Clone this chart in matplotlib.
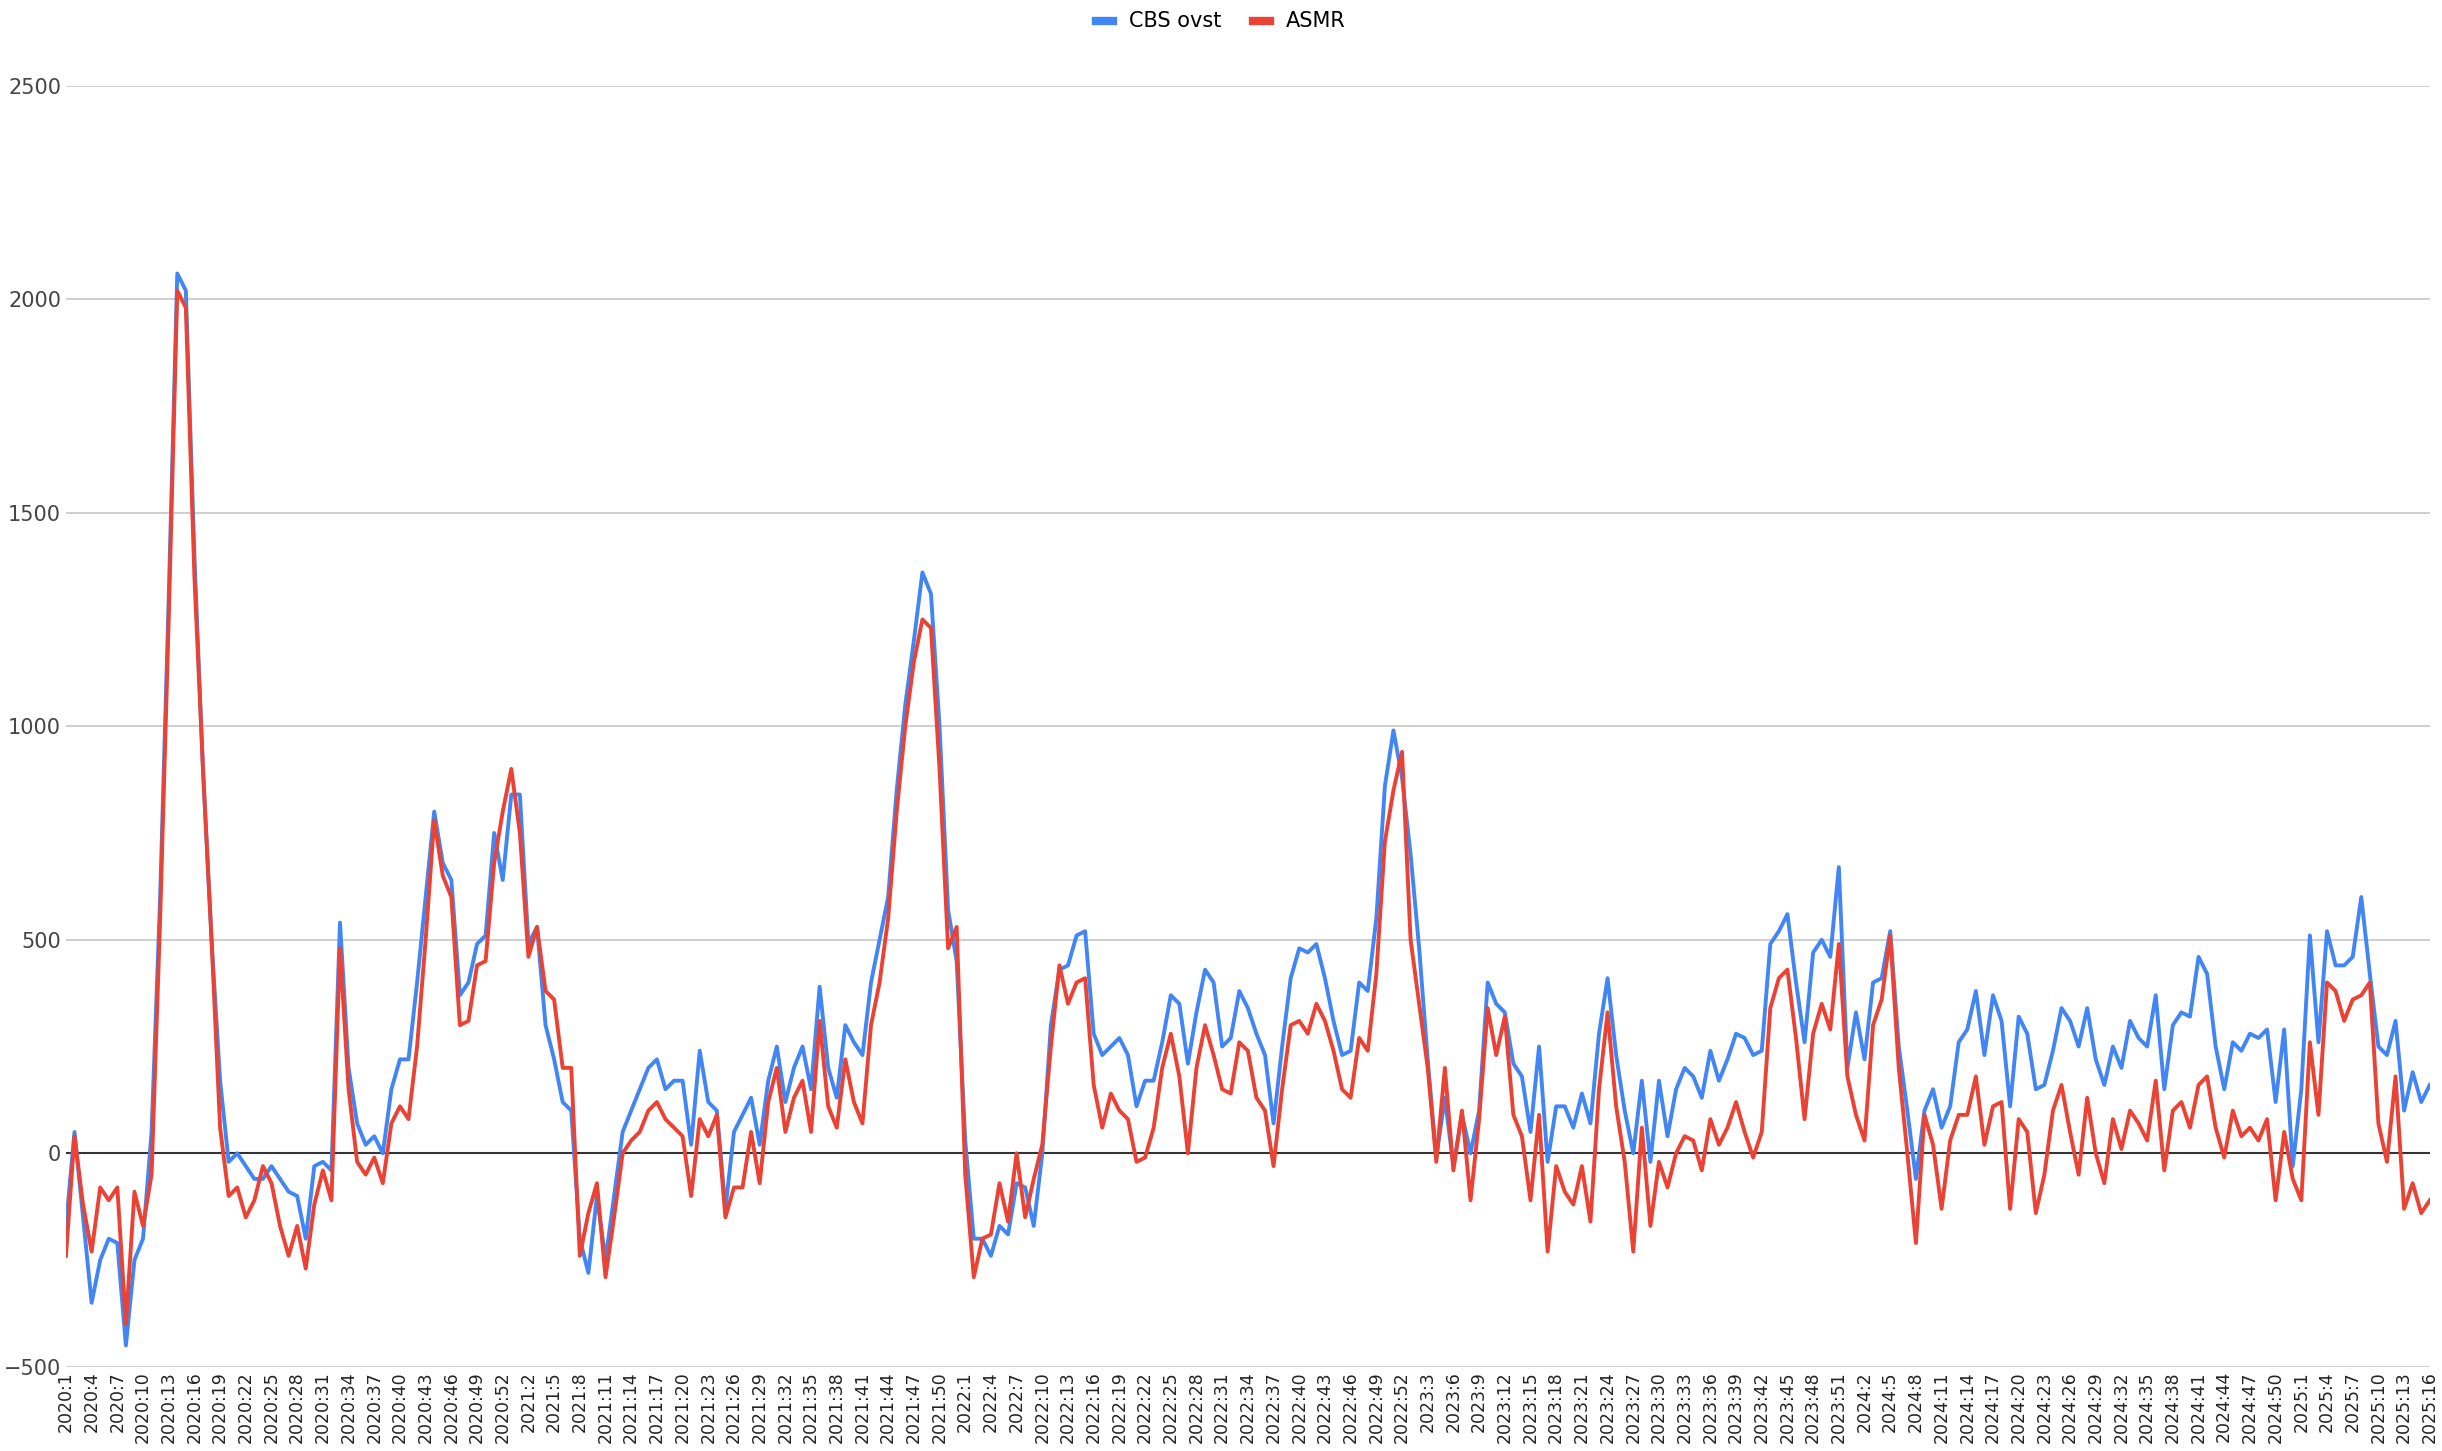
import matplotlib
matplotlib.use("Agg")
import matplotlib.pyplot as plt

years = [2020, 2021, 2022, 2023, 2024, 2025]
weeks_per_year = [53, 52, 52, 52, 52, 16]

cbs_2020 = [-170, 50, -150, -350, -250, -200, -210, -450, -250, -200, 50, 600, 1300, 2060, 2020, 1400, 900, 500, 170,
            -20, 0, -30, -60, -60, -30, -60, -90, -100, -200, -30, -20, -40, 540, 200, 70, 20, 40, 0, 150, 220, 220,
            400, 600, 800, 680, 640, 370, 400, 490, 510, 750, 640, 840]
asmr_2020 = [-240, 40, -120, -230, -80, -110, -80, -400, -90, -170, -50, 550, 1250, 2020, 1980, 1350, 900, 500, 60,
             -100, -80, -150, -110, -30, -70, -170, -240, -170, -270, -120, -40, -110, 480, 150, -20, -50, -10, -70, 70,
             110, 80, 250, 500, 780, 650, 600, 300, 310, 440, 450, 680, 800, 900]
cbs_2021 = [840, 490, 530, 300, 220, 120, 100, -200, -280, -100, -250, -100, 50, 100, 150, 200, 220, 150, 170, 170,
            20, 240, 120, 100, -130, 50, 90, 130, 20, 170, 250, 120, 200, 250, 150, 390, 200, 130, 300, 260, 230, 400,
            500, 600, 850, 1050, 1200, 1360, 1310, 1000, 570, 450]
asmr_2021 = [750, 460, 530, 380, 360, 200, 200, -240, -140, -70, -290, -150, 0, 30, 50, 100, 120, 80, 60, 40, -100,
             80, 40, 90, -150, -80, -80, 50, -70, 120, 200, 50, 130, 170, 50, 310, 110, 60, 220, 120, 70, 300, 400, 550,
             800, 1000, 1150, 1250, 1230, 900, 480, 530]
cbs_2022 = [30, -200, -200, -240, -170, -190, -70, -80, -170, 0, 300, 430, 440, 510, 520, 280, 230, 250, 270, 230,
            110, 170, 170, 260, 370, 350, 210, 330, 430, 400, 250, 270, 380, 340, 280, 230, 70, 250, 410, 480, 470,
            490, 410, 310, 230, 240, 400, 380, 550, 860, 990, 880]
asmr_2022 = [-50, -290, -200, -190, -70, -160, 0, -150, -60, 20, 250, 440, 350, 400, 410, 160, 60, 140, 100, 80, -20,
             -10, 60, 200, 280, 180, 0, 200, 300, 230, 150, 140, 260, 240, 130, 100, -30, 150, 300, 310, 280, 350, 310,
             240, 150, 130, 270, 240, 420, 730, 850, 940]
cbs_2023 = [700, 480, 220, -10, 130, -30, 90, 0, 100, 400, 350, 330, 210, 180, 50, 250, -20, 110, 110, 60, 140, 70,
            280, 410, 230, 100, 0, 170, -20, 170, 40, 150, 200, 180, 130, 240, 170, 220, 280, 270, 230, 240, 490, 520,
            560, 400, 260, 470, 500, 460, 670, 200]
asmr_2023 = [500, 350, 200, -20, 200, -40, 100, -110, 80, 340, 230, 320, 90, 40, -110, 90, -230, -30, -90, -120, -30,
             -160, 150, 330, 110, -20, -230, 60, -170, -20, -80, 0, 40, 30, -40, 80, 20, 60, 120, 50, -10, 50, 340, 410,
             430, 270, 80, 280, 350, 290, 490, 180]
cbs_2024 = [330, 220, 400, 410, 520, 250, 100, -60, 100, 150, 60, 110, 260, 290, 380, 230, 370, 310, 110, 320, 280,
            150, 160, 240, 340, 310, 250, 340, 220, 160, 250, 200, 310, 270, 250, 370, 150, 300, 330, 320, 460, 420,
            250, 150, 260, 240, 280, 270, 290, 120, 290, -30]
asmr_2024 = [90, 30, 300, 360, 510, 200, 0, -210, 90, 20, -130, 30, 90, 90, 180, 20, 110, 120, -130, 80, 50, -140,
             -50, 100, 160, 50, -50, 130, 0, -70, 80, 10, 100, 70, 30, 170, -40, 100, 120, 60, 160, 180, 60, -10, 100,
             40, 60, 30, 80, -110, 50, -60]
cbs_2025 = [150, 510, 260, 520, 440, 440, 460, 600, 420, 250, 230, 310, 100, 190, 120, 160]
asmr_2025 = [-110, 260, 90, 400, 380, 310, 360, 370, 400, 70, -20, 180, -130, -70, -140, -110]

cbs = cbs_2020 + cbs_2021 + cbs_2022 + cbs_2023 + cbs_2024 + cbs_2025
asmr = asmr_2020 + asmr_2021 + asmr_2022 + asmr_2023 + asmr_2024 + asmr_2025
labels = [f"{y}:{w}" for y, n in zip(years, weeks_per_year) for w in range(1, n + 1)]

fig = plt.figure(figsize=(24.42, 14.51), dpi=100)
ax = fig.add_axes([0.027, 0.058, 0.968, 0.883])
x = list(range(len(labels)))
ax.plot(x[:len(cbs)], cbs, color="#4285F4", lw=2.8, label="CBS ovst", zorder=3)
ax.plot(x[:len(asmr)], asmr, color="#EA4335", lw=2.8, label="ASMR", zorder=4)
ax.set_ylim(-500, 2500)
ax.set_xlim(0, len(labels) - 1)
ax.set_yticks(range(-500, 2501, 500))
ax.grid(axis="y", color="#cccccc", lw=1.3)
ax.axhline(0, color="#333333", lw=1.5, zorder=2)
ax.set_xticks(x[::3])
ax.set_xticklabels(labels[::3], rotation=90, fontsize=12.5, color="#222222")
ax.tick_params(axis="y", labelsize=15, colors="#444444", length=0)
ax.tick_params(axis="x", length=0, pad=3)
for s in ax.spines.values():
    s.set_visible(False)
leg = fig.legend(loc="upper center", bbox_to_anchor=(0.5, 1.005), ncol=2, frameon=False, fontsize=15,
                 handlelength=0.8, handleheight=0.6, columnspacing=1.5)
for h in leg.get_lines():
    h.set_linewidth(6)
fig.savefig("out.png", dpi=100)
